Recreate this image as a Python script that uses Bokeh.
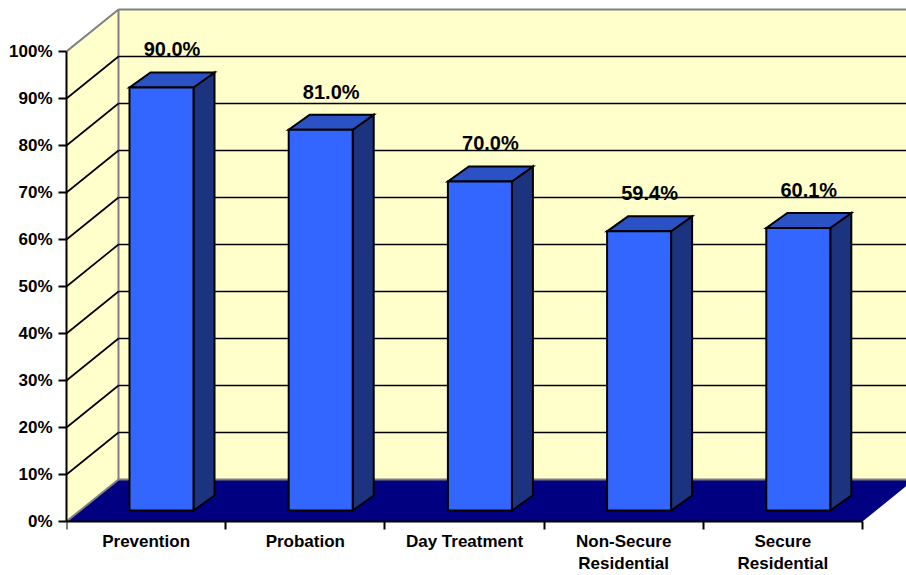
from bokeh.plotting import figure
from bokeh.models import Range1d, FixedTicker, PrintfTickFormatter
from bokeh.core.properties import value
from bokeh.embed import file_html
from bokeh.resources import INLINE

# ---- data -------------------------------------------------------------
categories = ["Prevention", "Probation", "Day Treatment",
              "Non-Secure\nResidential", "Secure\nResidential"]
rates = [90.0, 81.0, 70.0, 59.4, 60.1]
y_ticks = [0, 10, 20, 30, 40, 50, 60, 70, 80, 90, 100]

# ---- oblique projection (x in category units, y in percent) ------------
WALL_DX, WALL_DY = 0.3266, 8.94      # depth of walls / floor
BAR_X0, BAR_Y0 = 0.0967, 2.34        # where bar front faces sit in depth
BAR_DX, BAR_DY = 0.132, 3.19         # depth of each bar
BAR_HALF = 0.201                     # half width of a bar
LABEL_GAP = 4.9

FONT = "Liberation Sans"
WALL = "#FFFFCC"
FLOOR = "#000080"
FRONT = "#3366FF"
TOP = "#2A52C4"
SIDE = "#1C3480"
EDGE = "#808080"

n = len(categories)
top_pct = y_ticks[-1]

# the frame runs to the bottom of the canvas so the category labels,
# hung under an axis pinned at 0%, can use the space below the floor
p = figure(width=906, height=575, output_backend="svg", toolbar_location=None,
           x_range=Range1d(0, 5.2764), y_range=Range1d(-11.49, 110.85),
           min_border_left=66, min_border_right=0, min_border_top=0,
           min_border_bottom=0)
p.outline_line_color = None
p.background_fill_color = "white"
p.border_fill_color = "white"
p.grid.visible = False

# ---- walls and floor --------------------------------------------------
p.patch([0, 0, WALL_DX, WALL_DX], [0, top_pct, top_pct + WALL_DY, WALL_DY],
        fill_color=WALL, line_color=None)
p.quad(left=WALL_DX, right=n + WALL_DX, bottom=WALL_DY, top=top_pct + WALL_DY,
       fill_color=WALL, line_color=None)
p.patch([0, n, n + WALL_DX, WALL_DX], [0, 0, WALL_DY, WALL_DY],
        fill_color=FLOOR, line_color=None)

p.segment(x0=[0, WALL_DX, WALL_DX, WALL_DX, 0],
          y0=[top_pct, top_pct + WALL_DY, WALL_DY, WALL_DY, 0],
          x1=[WALL_DX, n + WALL_DX, WALL_DX, n + WALL_DX, WALL_DX],
          y1=[top_pct + WALL_DY, top_pct + WALL_DY, top_pct + WALL_DY, WALL_DY, WALL_DY],
          line_color=EDGE, line_width=2)

# ---- value labels (sit behind the wall grid lines) ----------------------
lab_x = [i + 0.5 + BAR_X0 + BAR_DX / 2 for i in range(n)]
lab_y = [BAR_Y0 + v + BAR_DY + LABEL_GAP for v in rates]
p.text(x=lab_x, y=lab_y, text=[f"{v:.1f}%" for v in rates],
       text_font=value(FONT), text_font_style="bold", text_font_size="20px",
       text_align="center", text_baseline="alphabetic", text_color="black")

# ---- grid lines on the side and back walls ------------------------------
inner = y_ticks[1:-1]
p.segment(x0=[0] * len(inner), y0=inner,
          x1=[WALL_DX] * len(inner), y1=[v + WALL_DY for v in inner],
          line_color="black", line_width=1.7)
p.segment(x0=[WALL_DX] * len(inner), y0=[v + WALL_DY for v in inner],
          x1=[n + WALL_DX] * len(inner), y1=[v + WALL_DY for v in inner],
          line_color="black", line_width=1.7)

# ---- bars ------------------------------------------------------------
front_x, front_y, side_x, side_y, top_x, top_y = [], [], [], [], [], []
for i, v in enumerate(rates):
    xc = i + 0.5 + BAR_X0
    x0, x1 = xc - BAR_HALF, xc + BAR_HALF
    b, t = BAR_Y0, BAR_Y0 + v
    front_x.append([x0, x1, x1, x0])
    front_y.append([b, b, t, t])
    side_x.append([x1, x1, x1 + BAR_DX, x1 + BAR_DX])
    side_y.append([b, t, t + BAR_DY, b + BAR_DY])
    top_x.append([x0, x1, x1 + BAR_DX, x0 + BAR_DX])
    top_y.append([t, t, t + BAR_DY, t + BAR_DY])

for xs, ys, col in ((side_x, side_y, SIDE), (top_x, top_y, TOP), (front_x, front_y, FRONT)):
    p.patches(xs, ys, fill_color=col, line_color="black", line_width=2,
              line_join="miter")

# ---- axes ------------------------------------------------------------
ya = p.yaxis[0]
ya.ticker = FixedTicker(ticks=y_ticks, minor_ticks=[])
ya.bounds = (0, top_pct)
ya.formatter = PrintfTickFormatter(format="%d%%")
ya.axis_line_color = "black"
ya.axis_line_width = 2
ya.major_tick_line_color = "black"
ya.major_tick_line_width = 2
ya.major_tick_out = 8
ya.major_tick_in = 0
ya.major_label_standoff = 6
ya.major_label_text_font = FONT
ya.major_label_text_font_style = "bold"
ya.major_label_text_font_size = "17px"
ya.major_label_text_color = "black"

xa = p.xaxis[0]
centers = [i + 0.5 for i in range(n)]
xa.fixed_location = 0
xa.ticker = FixedTicker(ticks=centers, minor_ticks=list(range(n + 1)))
xa.bounds = (0, n)
xa.major_label_overrides = {c: name for c, name in zip(centers, categories)}
xa.axis_line_color = "black"
xa.axis_line_width = 2
xa.major_tick_line_color = None
xa.minor_tick_line_color = "black"
xa.minor_tick_line_width = 2
xa.minor_tick_out = 8
xa.minor_tick_in = 0
xa.major_tick_out = 8
xa.major_label_standoff = 3
xa.major_label_text_font = FONT
xa.major_label_text_font_style = "bold"
xa.major_label_text_font_size = "17px"
xa.major_label_text_color = "black"
xa.major_label_text_line_height = 1.15

open("out.html", "w").write(file_html(p, INLINE))
